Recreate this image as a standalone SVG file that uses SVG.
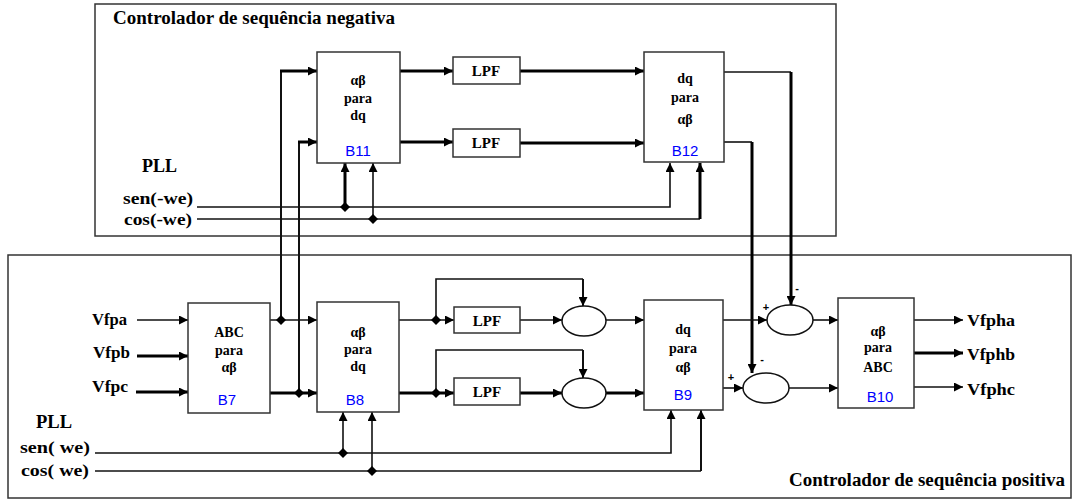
<svg xmlns="http://www.w3.org/2000/svg" width="1073" height="500" viewBox="0 0 1073 500">
<defs>
<marker id="ah" markerUnits="userSpaceOnUse" markerWidth="10" markerHeight="9" refX="9" refY="4.5" orient="auto"><path d="M0,0 L9,4.5 L0,9 z" fill="#000"/></marker>
<style>
.frame{fill:none;stroke:#333;stroke-width:1.5}
.blk{fill:#fff;stroke:#333;stroke-width:1.5}
.sum{fill:#fff;stroke:#111;stroke-width:1.5}
.w{fill:none;stroke:#111;stroke-width:1.6}
.k{fill:none;stroke:#000;stroke-width:3}
.m{fill:none;stroke:#111;stroke-width:2}
.a{marker-end:url(#ah)}
.dot{fill:#000}
.t{font-family:"Liberation Serif",serif;font-weight:bold;fill:#000}
.bt{font-family:"Liberation Serif",serif;font-weight:bold;font-size:14px;fill:#000;text-anchor:middle}
.lp{font-family:"Liberation Serif",serif;font-weight:bold;font-size:15px;fill:#000;text-anchor:middle}
.id{font-family:"Liberation Sans",sans-serif;font-size:15px;fill:#0000ff;text-anchor:middle}
.sg{font-family:"Liberation Sans",sans-serif;font-weight:bold;font-size:11px;fill:#000;text-anchor:middle}
</style>
</defs>
<rect width="1073" height="500" fill="#fff"/>
<g id="frames">
<rect class="frame" x="95" y="4" width="741" height="232"/>
<rect class="frame" x="8" y="255" width="1063" height="243"/>
<text class="t" x="113" y="24" font-size="18" textLength="282" lengthAdjust="spacingAndGlyphs">Controlador de sequência negativa</text>
<text class="t" x="789" y="486" font-size="18" textLength="276" lengthAdjust="spacingAndGlyphs">Controlador de sequência positiva</text>
</g>
<g id="connectors">
<path class="k a" d="M400,71 H453"/>
<path class="k a" d="M400,142 H453"/>
<path class="k a" d="M520,71 H644"/>
<path class="k a" d="M520,143 H644"/>
<path class="w" d="M724,72 H791"/>
<path class="k a" d="M791,72 V305"/>
<path class="w" d="M724,142 H752"/>
<path class="k a" d="M752,142 V373"/>
<path class="w a" d="M197,207 H670 V163"/>
<path class="k a" d="M345,207 V163"/>
<path class="w" d="M197,219 H700"/>
<path class="k a" d="M700,219 V163"/>
<path class="w a" d="M373,219 V163"/>
<path class="m" d="M281,320 V71"/>
<path class="k a" d="M280,71 H317"/>
<path class="m" d="M299,393 V142"/>
<path class="k a" d="M298,142 H317"/>
<path class="w a" d="M137,320 H188"/>
<path class="k a" d="M137,356 H188"/>
<path class="k a" d="M136,392 H188"/>
<path class="w a" d="M270,320 H317"/>
<path class="k a" d="M270,393 H317"/>
<path class="w a" d="M399,320 H454"/>
<path class="w" d="M436,320 V279 H583"/>
<path class="m a" d="M583,279 V306"/>
<path class="w a" d="M520,320 H562"/>
<path class="w a" d="M606,320 H644"/>
<path class="k a" d="M399,393 H454"/>
<path class="w" d="M436,393 V350 H583"/>
<path class="m a" d="M583,350 V378"/>
<path class="k a" d="M520,393 H562"/>
<path class="k a" d="M606,393 H644"/>
<path class="w a" d="M95,453 H671 V410"/>
<path class="w a" d="M343,453 V412"/>
<path class="w" d="M95,471 H701"/>
<path class="m a" d="M701,471 V410"/>
<path class="w a" d="M372,471 V412"/>
<path class="w a" d="M723,320 H767"/>
<path class="w a" d="M723,388 H743"/>
<path class="w a" d="M813,320 H838"/>
<path class="w a" d="M789,388 H838"/>
<path class="w a" d="M914,320 H963"/>
<path class="k a" d="M914,353 H963"/>
<path class="w a" d="M914,387 H963"/>
<polygon class="dot" points="345,202 350,207 345,212 340,207"/>
<polygon class="dot" points="373,214 378,219 373,224 368,219"/>
<polygon class="dot" points="281,315 286,320 281,325 276,320"/>
<polygon class="dot" points="299,388 304,393 299,398 294,393"/>
<polygon class="dot" points="436,315 441,320 436,325 431,320"/>
<polygon class="dot" points="436,388 441,393 436,398 431,393"/>
<polygon class="dot" points="343,448 348,453 343,458 338,453"/>
<polygon class="dot" points="372,466 377,471 372,476 367,471"/>
</g>
<g id="labels">
<text class="t" x="142" y="172" font-size="18" textLength="35" lengthAdjust="spacingAndGlyphs">PLL</text>
<text class="t" x="123" y="204" font-size="17" textLength="70" lengthAdjust="spacingAndGlyphs">sen(-we)</text>
<text class="t" x="124" y="225" font-size="17" textLength="68" lengthAdjust="spacingAndGlyphs">cos(-we)</text>
<text class="t" x="36" y="428" font-size="18" textLength="36" lengthAdjust="spacingAndGlyphs">PLL</text>
<text class="t" x="20" y="453" font-size="17" textLength="70" lengthAdjust="spacingAndGlyphs">sen( we)</text>
<text class="t" x="21" y="476" font-size="17" textLength="68" lengthAdjust="spacingAndGlyphs">cos( we)</text>
<text class="t" x="92" y="325" font-size="17" textLength="35" lengthAdjust="spacingAndGlyphs">Vfpa</text>
<text class="t" x="93" y="358" font-size="17" textLength="37" lengthAdjust="spacingAndGlyphs">Vfpb</text>
<text class="t" x="92" y="392" font-size="17" textLength="36" lengthAdjust="spacingAndGlyphs">Vfpc</text>
<text class="t" x="967" y="326" font-size="17" textLength="48" lengthAdjust="spacingAndGlyphs">Vfpha</text>
<text class="t" x="967" y="360" font-size="17" textLength="48" lengthAdjust="spacingAndGlyphs">Vfphb</text>
<text class="t" x="967" y="395" font-size="17" textLength="48" lengthAdjust="spacingAndGlyphs">Vfphc</text>
<text class="sg" x="766" y="311">+</text>
<text class="sg" x="797" y="292">-</text>
<text class="sg" x="731" y="381">+</text>
<text class="sg" x="762" y="363">-</text>
</g>
<g id="B11">
<rect class="blk" x="317" y="52" width="83" height="111"/>
<text class="bt" x="358" y="85">αβ</text>
<text class="bt" x="358" y="103">para</text>
<text class="bt" x="358" y="120">dq</text>
<text class="id" x="358" y="156">B11</text>
</g>
<g id="LPF1"><rect class="blk" x="453" y="57" width="67" height="27"/><text class="lp" x="486" y="76">LPF</text></g>
<g id="LPF2"><rect class="blk" x="453" y="129" width="67" height="28"/><text class="lp" x="486" y="148">LPF</text></g>
<g id="B12">
<rect class="blk" x="644" y="52" width="80" height="110"/>
<text class="bt" x="685" y="83">dq</text>
<text class="bt" x="685" y="102">para</text>
<text class="bt" x="685" y="124">αβ</text>
<text class="id" x="685" y="156">B12</text>
</g>
<g id="B7">
<rect class="blk" x="188" y="303" width="82" height="110"/>
<text class="bt" x="229" y="337">ABC</text>
<text class="bt" x="229" y="355">para</text>
<text class="bt" x="229" y="372">αβ</text>
<text class="id" x="227" y="405">B7</text>
</g>
<g id="B8">
<rect class="blk" x="317" y="302" width="82" height="110"/>
<text class="bt" x="358" y="337">αβ</text>
<text class="bt" x="358" y="354">para</text>
<text class="bt" x="358" y="371">dq</text>
<text class="id" x="355" y="405">B8</text>
</g>
<g id="LPF3"><rect class="blk" x="454" y="307" width="66" height="26"/><text class="lp" x="487" y="326">LPF</text></g>
<g id="LPF4"><rect class="blk" x="454" y="378" width="66" height="27"/><text class="lp" x="487" y="397">LPF</text></g>
<g id="S1"><ellipse class="sum" cx="584" cy="321" rx="22" ry="15"/></g>
<g id="S2"><ellipse class="sum" cx="584" cy="393" rx="22" ry="15"/></g>
<g id="B9">
<rect class="blk" x="644" y="300" width="79" height="110"/>
<text class="bt" x="683" y="334">dq</text>
<text class="bt" x="683" y="353">para</text>
<text class="bt" x="683" y="372">αβ</text>
<text class="id" x="683" y="400">B9</text>
</g>
<g id="S3"><ellipse class="sum" cx="790" cy="320" rx="23" ry="15"/></g>
<g id="S4"><ellipse class="sum" cx="766" cy="388" rx="23" ry="15"/></g>
<g id="B10">
<rect class="blk" x="838" y="298" width="76" height="110"/>
<text class="bt" x="878" y="336">αβ</text>
<text class="bt" x="878" y="352">para</text>
<text class="bt" x="878" y="372">ABC</text>
<text class="id" x="880" y="402">B10</text>
</g>
</svg>
